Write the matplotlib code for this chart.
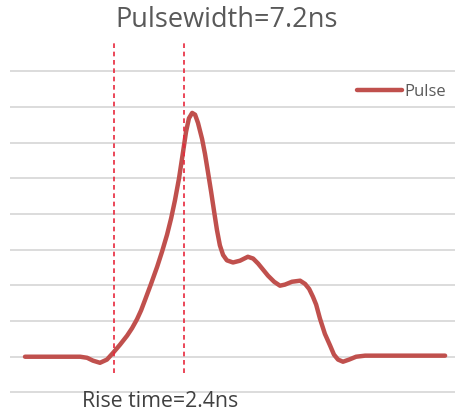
import matplotlib
matplotlib.use("Agg")
import matplotlib.pyplot as plt

# pulse trace, time in ns, amplitude in grid units
t_ns = [0.00, 1.89, 2.13, 2.33, 2.57, 2.81, 3.02, 3.26, 3.50, 3.67, 3.84,
        3.98, 4.11, 4.32, 4.53, 4.70, 4.87, 5.01, 5.14, 5.28, 5.42, 5.52,
        5.62, 5.73, 5.83, 5.93, 6.07, 6.17, 6.27, 6.38, 6.48, 6.58, 6.68,
        6.79, 6.92, 7.13, 7.37, 7.64, 7.82, 7.99, 8.16, 8.33, 8.54, 8.74,
        8.91, 9.15, 9.43, 9.60, 9.74, 9.87, 9.98, 10.11, 10.28, 10.46,
        10.59, 10.73, 10.90, 11.11, 11.35, 11.66, 14.40]
pulse = [0.00, 0.00, -0.03, -0.11, -0.17, -0.08, 0.11, 0.34, 0.59, 0.80,
         1.05, 1.30, 1.58, 2.04, 2.52, 2.95, 3.42, 3.88, 4.38, 5.00, 5.75,
         6.30, 6.68, 6.83, 6.78, 6.55, 6.10, 5.68, 5.18, 4.62, 4.08, 3.55,
         3.12, 2.85, 2.70, 2.64, 2.69, 2.80, 2.75, 2.61, 2.44, 2.27, 2.10,
         1.99, 2.02, 2.10, 2.13, 2.04, 1.90, 1.68, 1.46, 1.07, 0.64, 0.31,
         0.06, -0.08, -0.14, -0.08, 0.00, 0.03, 0.03]

rise_start = 3.05
rise_end = 5.45
grid_levels = [-1, 0, 1, 2, 3, 4, 5, 6, 7, 8]

plt.rcParams['font.family'] = ['Open Sans', 'DejaVu Sans']

fig = plt.figure(figsize=(4.59, 4.15), dpi=100)
ax = fig.add_axes([0.0218, 0.0458, 0.9695, 0.8602])

for g in grid_levels:
    ax.axhline(g, color="#d9d9d9", linewidth=1.3, zorder=0)

ax.plot(t_ns, pulse, color="#c0504d", linewidth=3.2, label="Pulse",
        solid_capstyle="round", solid_joinstyle="round", zorder=3)

for xv in (rise_start, rise_end):
    ax.plot([xv, xv], [-0.45, 8.8], color="#e8283c", linewidth=1.2,
            linestyle=(0, (2.8, 2.2)), zorder=4)

ax.set_xlim(-0.514, 14.74)
ax.set_ylim(-1.1, 8.9)
ax.axis("off")

leg = ax.legend(loc="center left", bbox_to_anchor=(357 / 459, 1 - 92 / 415),
                bbox_transform=fig.transFigure, frameon=False,
                handlelength=2.7, handletextpad=0.15, fontsize=12,
                borderaxespad=0.0, borderpad=0.0)
for txt in leg.get_texts():
    txt.set_color("#595959")

fig.text(115 / 459, 0.935, "Pulsewidth=7.2ns", ha="left", va="baseline",
         fontsize=19.5, color="#595959")
fig.text(82 / 459, 0.019, "Rise time=2.4ns", ha="left", va="baseline",
         fontsize=15.3, color="#404040")

fig.savefig("out.png", dpi=100)
